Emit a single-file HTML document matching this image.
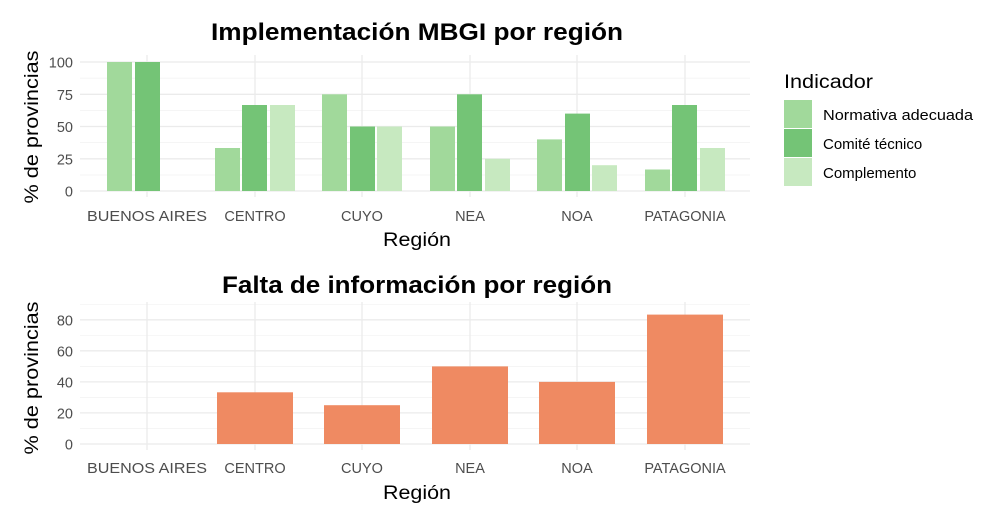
<!DOCTYPE html>
<html><head><meta charset="utf-8"><style>body{margin:0;background:#fff}svg{display:block}text{font-family:"Liberation Sans",Arial,sans-serif}</style></head><body>
<svg width="1003" height="523" viewBox="0 0 1003 523" xmlns="http://www.w3.org/2000/svg">
<rect width="1003" height="523" fill="#fff"/>
<g stroke="#f2f2f2" stroke-width="0.7">
<line x1="80" x2="750" y1="175" y2="175"/><line x1="80" x2="750" y1="142.6" y2="142.6"/><line x1="80" x2="750" y1="110.4" y2="110.4"/><line x1="80" x2="750" y1="78.1" y2="78.1"/>
<line x1="80" x2="750" y1="428.5" y2="428.5"/><line x1="80" x2="750" y1="397.4" y2="397.4"/><line x1="80" x2="750" y1="366.4" y2="366.4"/><line x1="80" x2="750" y1="335.3" y2="335.3"/><line x1="80" x2="750" y1="304.3" y2="304.3"/>
</g>
<g stroke="#ebebeb" stroke-width="1.3">
<line x1="80" x2="750" y1="191" y2="191"/><line x1="80" x2="750" y1="158.8" y2="158.8"/><line x1="80" x2="750" y1="126.5" y2="126.5"/><line x1="80" x2="750" y1="94.3" y2="94.3"/><line x1="80" x2="750" y1="62" y2="62"/>
<line x1="147" x2="147" y1="55" y2="197"/><line x1="255" x2="255" y1="55" y2="197"/><line x1="362" x2="362" y1="55" y2="197"/><line x1="470" x2="470" y1="55" y2="197"/><line x1="577" x2="577" y1="55" y2="197"/><line x1="685" x2="685" y1="55" y2="197"/>
<line x1="80" x2="750" y1="444" y2="444"/><line x1="80" x2="750" y1="412.9" y2="412.9"/><line x1="80" x2="750" y1="381.9" y2="381.9"/><line x1="80" x2="750" y1="350.8" y2="350.8"/><line x1="80" x2="750" y1="319.8" y2="319.8"/>
<line x1="147" x2="147" y1="302" y2="450"/><line x1="255" x2="255" y1="302" y2="450"/><line x1="362" x2="362" y1="302" y2="450"/><line x1="470" x2="470" y1="302" y2="450"/><line x1="577" x2="577" y1="302" y2="450"/><line x1="685" x2="685" y1="302" y2="450"/>
</g>
<g>
<rect x="107" y="62" width="25" height="129" fill="#a1d99b"/><rect x="135" y="62" width="25" height="129" fill="#74c476"/>
<rect x="215" y="148" width="25" height="43" fill="#a1d99b"/><rect x="242" y="105" width="25" height="86" fill="#74c476"/><rect x="270" y="105" width="25" height="86" fill="#c7e9c0"/>
<rect x="322" y="94.3" width="25" height="96.7" fill="#a1d99b"/><rect x="350" y="126.5" width="25" height="64.5" fill="#74c476"/><rect x="377" y="126.5" width="25" height="64.5" fill="#c7e9c0"/>
<rect x="430" y="126.5" width="25" height="64.5" fill="#a1d99b"/><rect x="457" y="94.3" width="25" height="96.7" fill="#74c476"/><rect x="485" y="158.8" width="25" height="32.2" fill="#c7e9c0"/>
<rect x="537" y="139.4" width="25" height="51.6" fill="#a1d99b"/><rect x="565" y="113.6" width="25" height="77.4" fill="#74c476"/><rect x="592" y="165.2" width="25" height="25.8" fill="#c7e9c0"/>
<rect x="645" y="169.5" width="25" height="21.5" fill="#a1d99b"/><rect x="672" y="105" width="25" height="86" fill="#74c476"/><rect x="700" y="148" width="25" height="43" fill="#c7e9c0"/>
</g>
<g fill="#ef8a62">
<rect x="217" y="392.3" width="76" height="51.7"/><rect x="324" y="405.2" width="76" height="38.8"/><rect x="432" y="366.4" width="76" height="77.6"/><rect x="539" y="381.9" width="76" height="62.1"/><rect x="647" y="314.6" width="76" height="129.4"/>
</g>
<g font-size="14.5" fill="#4d4d4d" text-anchor="end">
<text x="73" y="196.5">0</text><text x="73" y="164.3">25</text><text x="73" y="132">50</text><text x="73" y="99.8">75</text><text x="73" y="67.5">100</text>
<text x="73" y="449.5">0</text><text x="73" y="418.4">20</text><text x="73" y="387.4">40</text><text x="73" y="356.3">60</text><text x="73" y="325.3">80</text>
</g>
<g font-size="14.5" fill="#4d4d4d" text-anchor="middle">
<text x="147" y="221" textLength="120" lengthAdjust="spacingAndGlyphs">BUENOS AIRES</text><text x="255" y="221">CENTRO</text><text x="362" y="221">CUYO</text><text x="470" y="221">NEA</text><text x="577" y="221">NOA</text><text x="685" y="221">PATAGONIA</text>
<text x="147" y="473" textLength="120" lengthAdjust="spacingAndGlyphs">BUENOS AIRES</text><text x="255" y="473">CENTRO</text><text x="362" y="473">CUYO</text><text x="470" y="473">NEA</text><text x="577" y="473">NOA</text><text x="685" y="473">PATAGONIA</text>
</g>
<g font-size="19" fill="#000" text-anchor="middle">
<text x="417" y="246" textLength="68" lengthAdjust="spacingAndGlyphs">Región</text><text x="417" y="499" textLength="68" lengthAdjust="spacingAndGlyphs">Región</text>
<text transform="translate(38,127) rotate(-90)" textLength="153" lengthAdjust="spacingAndGlyphs">% de provincias</text>
<text transform="translate(38,378) rotate(-90)" textLength="153" lengthAdjust="spacingAndGlyphs">% de provincias</text>
</g>
<g font-size="24" font-weight="bold" text-anchor="middle">
<text x="417" y="40" textLength="412" lengthAdjust="spacingAndGlyphs">Implementación MBGI por región</text>
<text x="417" y="293" textLength="390" lengthAdjust="spacingAndGlyphs">Falta de información por región</text>
</g>
<text x="784" y="88" font-size="19" textLength="89" lengthAdjust="spacingAndGlyphs">Indicador</text>
<rect x="784" y="100" width="28" height="28" fill="#a1d99b"/><rect x="784" y="129" width="28" height="28" fill="#74c476"/><rect x="784" y="158" width="28" height="28" fill="#c7e9c0"/>
<g font-size="15"><text x="823" y="120" textLength="150" lengthAdjust="spacingAndGlyphs">Normativa adecuada</text><text x="823" y="149">Comité técnico</text><text x="823" y="178">Complemento</text></g>
</svg>
</body></html>
